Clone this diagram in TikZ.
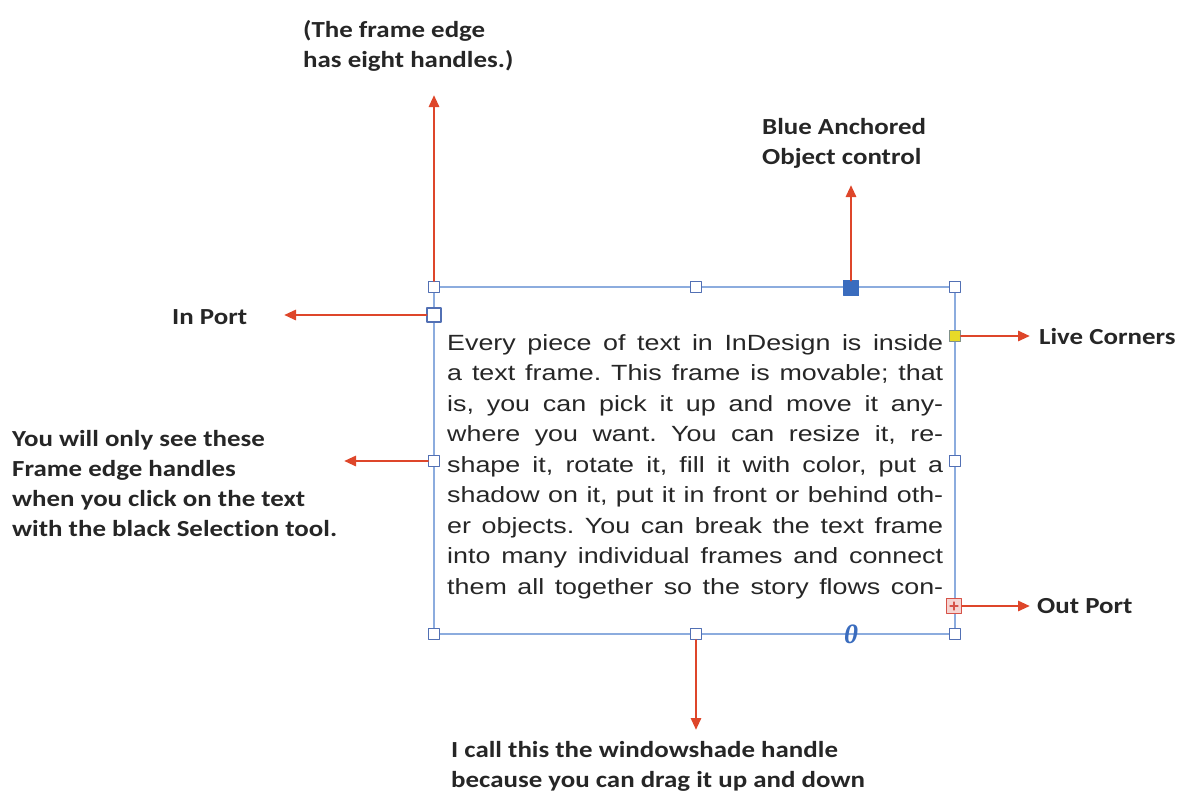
\documentclass[tikz,border=0pt]{standalone}
\usepackage{fontspec}
\setmainfont[FakeStretch=1.22]{Liberation Sans}
\newfontfamily\calloutfont[FakeStretch=1.17,Ligatures=NoCommon]{Carlito}
\newfontfamily\grabberfont{Liberation Serif}
\usetikzlibrary{arrows.meta}
\definecolor{pointerred}{RGB}{222,70,42}
\definecolor{frameblue}{RGB}{140,172,222}
\definecolor{handleblue}{RGB}{82,112,180}
\definecolor{anchorblue}{RGB}{58,108,190}
\definecolor{corneryellow}{RGB}{232,218,40}
\definecolor{portred}{RGB}{214,82,72}

\begin{document}
\begin{tikzpicture}[x=1pt,y=-1pt,line cap=round,line join=round,
  every node/.style={inner sep=0pt,text=black!85},
  handle/.style={rectangle,draw=handleblue,fill=white,line width=1.5pt,minimum size=11pt},
  frameline/.style={draw=frameblue,line width=2.2pt},
  callout/.style={font=\calloutfont\bfseries\fontsize{23}{30}\selectfont,align=left,anchor=base west},
  pointer/.style={draw=pointerred,line width=2.8pt,-{Triangle[length=12pt,width=10pt]}}]
  \useasboundingbox (0,0) rectangle (1189,803);
  % 文本框
  \coordinate (ftl) at (434,287);
  \coordinate (fbr) at (955,634);
  \draw[frameline] (ftl) rectangle (fbr);
  \node[anchor=base west,text width=496pt,align=justify,font=\fontsize{22}{30.5}\selectfont] (body) at (447,350)
    {\frenchspacing\parfillskip=0pt \hyphenpenalty=10000 \tolerance=10000
     Every piece of text in InDesign is inside\linebreak
     a text frame. This frame is movable; that\linebreak
     is, you can pick it up and move it any-\linebreak
     where you want. You can resize it, re-\linebreak
     shape it, rotate it, fill it with color, put a\linebreak
     shadow on it, put it in front or behind oth-\linebreak
     er objects. You can break the text frame\linebreak
     into many individual frames and connect\linebreak
     them all together so the story flows con-\par};
  % 八个手柄
  \foreach \nm/\x/\y in {htl/434/287, htm/696/287, htr/955/287, hml/434/461,
                         hmr/955/461, hbl/434/634, hbm/696/634, hbr/955/634} {
    \node[handle] (\nm) at (\x,\y) {};
  }
  % 其他控件
  \node[rectangle,draw=anchorblue,fill=anchorblue,minimum size=15pt] (anchor) at (851,288) {};
  \node[handle,minimum size=14pt] (inport) at (434,315) {};
  \node[rectangle,draw=handleblue!70!corneryellow,fill=corneryellow,line width=1.2pt,minimum size=11pt] (corner) at (955,336) {};
  \node[rectangle,draw=portred,fill=portred!25,line width=1.4pt,minimum size=15pt] (outport) at (954,606) {};
  \draw[portred,line width=1.2pt] ([xshift=-4pt]outport.center) -- ([xshift=4pt]outport.center);
  \draw[portred,line width=1.2pt] ([yshift=-4pt]outport.center) -- ([yshift=4pt]outport.center);
  \node[font=\grabberfont\bfseries\itshape\fontsize{28}{28}\selectfont,text=anchorblue] (grabber) at (851,634) {0};
  % 指示箭头
  \coordinate (tipedge) at (434,95);
  \coordinate (tipanchor) at (851,185);
  \coordinate (tipin) at (284,315);
  \coordinate (tiphandles) at (344,461);
  \coordinate (tipcorner) at (1030,336);
  \coordinate (tipout) at (1030,606);
  \coordinate (tipshade) at (696,730);
  \draw[pointer] (htl) -- (tipedge);
  \draw[pointer] (anchor) -- (tipanchor);
  \draw[pointer] (inport) -- (tipin);
  \draw[pointer] (hml) -- (tiphandles);
  \draw[pointer] (corner) -- (tipcorner);
  \draw[pointer] (outport) -- (tipout);
  \draw[pointer] (hbm) -- (tipshade);
  % 说明文字（基线取最后一行）
  \node[callout] (lbledge) at (303,67) {(The frame edge\\has eight handles.)};
  \node[callout] (lblanchor) at (762,164) {Blue Anchored\\Object control};
  \node[callout] (lblin) at (172,324) {In Port};
  \node[callout] (lblhandles) at (12,536) {You will only see these\\Frame edge handles\\when you click on the text\\with the black Selection tool.};
  \node[callout] (lblcorner) at (1039,344) {Live Corners};
  \node[callout] (lblout) at (1037,613) {Out Port};
  \node[callout] (lblshade) at (451,787) {I call this the windowshade handle\\because you can drag it up and down};
\end{tikzpicture}
\end{document}
